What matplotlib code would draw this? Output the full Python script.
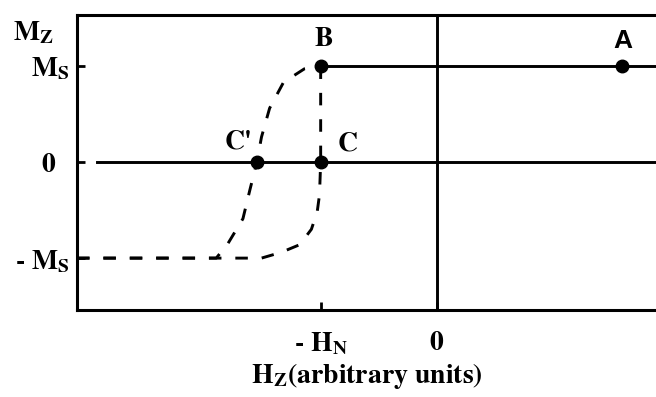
import matplotlib
matplotlib.use("Agg")
import matplotlib.pyplot as plt
from matplotlib.transforms import ScaledTranslation

plt.rcParams["mathtext.fontset"] = "stix"
plt.rcParams["font.family"] = ["STIXGeneral", "DejaVu Serif"]
plt.rcParams["lines.scale_dashes"] = False

# Field in units of H_N, magnetisation in units of M_S
H_MIN, H_MAX = -3.10, 1.89
M_MIN, M_MAX = -1.54, 1.53

# Reversal branch through C' (from negative saturation up to B)
branch_cp_h = [-3.10, -1.90, -1.80, -1.67, -1.61, -1.55, -1.51, -1.44, -1.32, -1.14, -1.00]
branch_cp_m = [-1.00, -1.00, -0.85, -0.59, -0.29, 0.00, 0.26, 0.56, 0.83, 0.97, 1.00]

# Branch through C (from negative saturation up to B along -H_N)
branch_c_h = [-3.10, -1.51, -1.34, -1.18, -1.08, -1.03, -1.01, -1.00, -1.00]
branch_c_m = [-1.00, -1.00, -0.94, -0.86, -0.70, -0.52, -0.34, 0.00, 1.00]

# Saturated state and zero-magnetisation reference lines
sat_line_h = [-1.00, H_MAX]
sat_line_m = [1.00, 1.00]
zero_line_h = [-2.93, H_MAX]
zero_line_m = [0.00, 0.00]

# Labelled states
point_names = ["A", "B", "C", "C'"]
point_h = [1.60, -1.00, -1.00, -1.55]
point_m = [1.00, 1.00, 0.00, 0.00]

y_ticks = [1.0, 0.0, -1.0]
y_tick_labels = [r"M$_\mathbf{S}$", "0", r"- M$_\mathbf{S}$"]
x_ticks = [-1.0, 0.0]
x_tick_labels = [r"- H$_\mathbf{N}$", "0"]

FS = 20

fig = plt.figure(figsize=(6.56, 3.97), dpi=100)
ax = fig.add_axes([77 / 656, 87 / 397, 1 - 77 / 656, 295 / 397])
ax.set_xlim(H_MIN, H_MAX)
ax.set_ylim(M_MIN, M_MAX)

lw = 2.1
dash = (9, 10)
ax.plot(branch_cp_h, branch_cp_m, color="black", lw=lw, dashes=dash)
ax.plot(branch_c_h, branch_c_m, color="black", lw=lw, dashes=dash)
ax.plot(sat_line_h, sat_line_m, color="black", lw=lw)
ax.plot(zero_line_h, zero_line_m, color="black", lw=lw)
ax.axvline(0.0, color="black", lw=lw)

ax.plot(point_h, point_m, "o", color="black", markersize=9, zorder=5)

label_offsets = {"A": (0.0, 0.26), "B": (0.03, 0.27), "C": (0.23, 0.19), "C'": (-0.16, 0.21)}
for name, h, m in zip(point_names, point_h, point_m):
    dx, dy = label_offsets[name]
    fam = ["Liberation Sans"] if name == "A" else ["STIXGeneral"]
    ax.text(h + dx, m + dy, name, ha="center", va="center",
            fontsize=FS - 1 if name == "A" else FS,
            fontweight="bold", family=fam)

for side in ["left", "bottom", "top"]:
    ax.spines[side].set_linewidth(2.2)
ax.spines["right"].set_visible(False)

ax.set_yticks(y_ticks)
ax.set_yticklabels(y_tick_labels, fontsize=FS, fontweight="bold")
ax.set_xticks(x_ticks)
ax.set_xticklabels(x_tick_labels, fontsize=FS, fontweight="bold")
ax.tick_params(axis="y", direction="in", length=5.5, width=2, pad=5)
ax.tick_params(axis="x", direction="in", length=6, width=2, pad=15)

# the zero label sits under the "M" column rather than flush with the axis
zero_label = ax.get_yticklabels()[1]
zero_label.set_transform(zero_label.get_transform()
                         + ScaledTranslation(-0.15, 0, fig.dpi_scale_trans))

ax.set_xlabel(r"H$_\mathbf{Z}$(arbitrary units)", fontsize=FS,
              fontweight="bold", labelpad=3)
fig.text(13 / 656, 1 - 33 / 397, r"M$_\mathbf{Z}$", fontsize=FS,
         fontweight="bold", ha="left", va="center")

fig.savefig("out.png", dpi=100)
